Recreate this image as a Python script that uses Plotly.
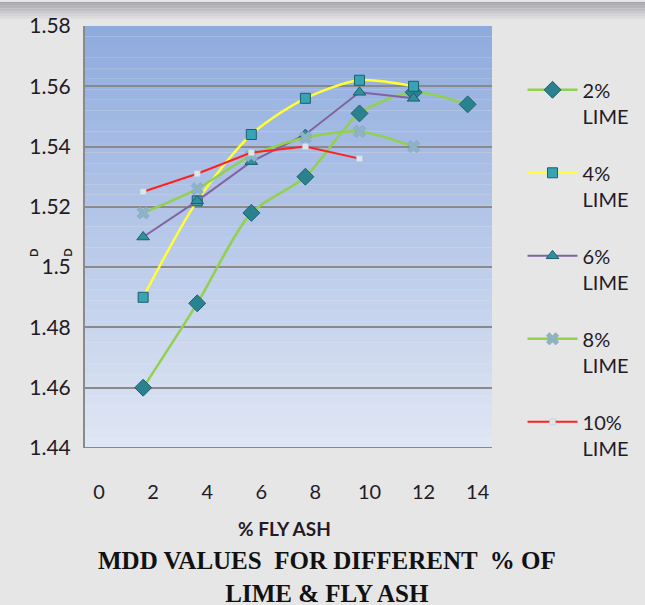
import plotly.graph_objects as go

fly_ash = [2, 4, 6, 8, 10, 12, 14]
lime_2 = [1.460, 1.488, 1.518, 1.530, 1.551, 1.558, 1.554]
lime_4 = [1.490, 1.522, 1.544, 1.556, 1.562, 1.560]
lime_6 = [1.510, 1.522, 1.535, 1.544, 1.558, 1.556]
lime_8 = [1.518, 1.526, 1.537, 1.543, 1.545, 1.540]
lime_10 = [1.525, 1.531, 1.538, 1.540, 1.536]

y_ticks = [1.44, 1.46, 1.48, 1.50, 1.52, 1.54, 1.56, 1.58]
y_tick_text = ["1.44", "1.46", "1.48", "1.5", "1.52", "1.54", "1.56", "1.58"]
x_ticks = [0, 2, 4, 6, 8, 10, 12, 14]

FONT = "Lato"
TXT = "#241a26"

fig = go.Figure()

def add(name, y, color, shape, line_shape, msize, mcolor, width=2.5):
    fig.add_trace(go.Scatter(
        x=fly_ash[:len(y)], y=y, name=name, legendgroup=name,
        mode="lines+markers",
        line=dict(color=color, width=width, shape=line_shape, smoothing=0.8),
        marker=dict(symbol=shape, size=msize, color=mcolor,
                    line=dict(color="#1e5f6b", width=1)),
    ))

add("2%<br>LIME", lime_2, "#92d050", "diamond", "spline", 13, "#2a8290")
add("4%<br>LIME", lime_4, "#ffff33", "square", "spline", 10, "#37a3b5")
add("6%<br>LIME", lime_6, "#8064a2", "triangle-up", "linear", 11, "#2f8f9e", 2)
fig.add_trace(go.Scatter(
    x=fly_ash[:len(lime_8)], y=lime_8, name="8%<br>LIME", legendgroup="8",
    mode="lines+markers",
    line=dict(color="#92d050", width=2.5, shape="spline", smoothing=0.8),
    marker=dict(symbol="x", size=11, color="#8fb3c6", line=dict(color="#7aa0b4", width=0.5)),
))
fig.add_trace(go.Scatter(
    x=fly_ash[:len(lime_10)], y=lime_10, name="10%<br>LIME", legendgroup="10",
    mode="lines+markers",
    line=dict(color="#ff2020", width=2),
    marker=dict(symbol="square", size=6, color="#dbe6ee", line=dict(color="#b8c8d4", width=0.5)),
))

shapes = []
# plot-area vertical gradient
n = 40
top = (0x8f, 0xab, 0xde)
bot = (0xdf, 0xe6, 0xf4)
for i in range(n):
    t = i / (n - 1)
    c = tuple(int(round(top[k] + (bot[k] - top[k]) * t)) for k in range(3))
    shapes.append(dict(type="rect", xref="x domain", yref="y domain",
                       x0=0, x1=1, y0=1 - (i + 1) / n, y1=1 - i / n,
                       fillcolor="rgb(%d,%d,%d)" % c, line=dict(width=0),
                       layer="below"))
# top grey bar gradient (paper coords above plot)
H = 424.0
m = 12
for i in range(m):
    t = i / (m - 1)
    g0 = (0xa4, 0xa4, 0xac)
    g1 = (0xe6, 0xe6, 0xe6)
    c = tuple(int(round(g0[k] + (g1[k] - g0[k]) * t)) for k in range(3))
    p0 = i * 1.6
    p1 = (i + 1) * 1.6
    shapes.append(dict(type="rect", xref="paper", yref="paper",
                       x0=-1, x1=2, y0=1 + (24 - p1) / H, y1=1 + (24 - p0) / H,
                       fillcolor="rgb(%d,%d,%d)" % c, line=dict(width=0),
                       layer="below"))

fig.update_layout(
    width=645, height=605,
    margin=dict(l=85, r=153, t=24, b=157),
    paper_bgcolor="#e6e6e6",
    plot_bgcolor="rgba(0,0,0,0)",
    font=dict(family=FONT, size=20, color=TXT),
    shapes=shapes,
    showlegend=True,
    legend=dict(x=1.075, y=0.895, xanchor="left", yanchor="top",
                bgcolor="rgba(0,0,0,0)", tracegroupgap=28,
                font=dict(family=FONT, size=20, color=TXT),
                valign="top", itemwidth=50),
    xaxis=dict(range=[-0.15, 14.9], tickvals=x_ticks, showgrid=False,
               zeroline=False, showline=False, ticks="",
               ticklabelstandoff=30, ticklabelshift=10,
               tickfont=dict(size=20)),
    yaxis=dict(range=[1.44, 1.58], tickvals=y_ticks, ticktext=y_tick_text,
               showgrid=True, gridcolor="#8a8a8a", gridwidth=2,
               zeroline=False, showline=True, linecolor="#8a8a8a", linewidth=2,
               ticks="", ticklabelstandoff=8, tickfont=dict(size=21)),
)

fig.add_shape(type="line", xref="x domain", yref="y", x0=0, x1=1, y0=1.44, y1=1.44,
              line=dict(color="#8a8a8a", width=2), layer="below")

fig.add_annotation(text="<b>% FLY ASH</b>", xref="paper", yref="paper",
                   x=0.491, y=-0.191, xanchor="center", yanchor="middle",
                   showarrow=False,
                   font=dict(family=FONT, size=19, color=TXT))
fig.add_annotation(text="<b>MDD VALUES  FOR DIFFERENT  % OF<br>LIME &amp; FLY ASH</b>",
                   xref="paper", yref="paper", x=0.595, y=-0.305,
                   xanchor="center", yanchor="middle", showarrow=False,
                   align="center",
                   font=dict(family="Liberation Serif", size=25, color="#111"))

for xp in (-0.128, -0.045):
    fig.add_annotation(text="<b>D</b>", xref="paper", yref="paper", x=xp, y=0.462,
                       xanchor="center", yanchor="middle",
                       showarrow=False, textangle=-90,
                       font=dict(family=FONT, size=11, color=TXT))

fig.write_html("out.html")
